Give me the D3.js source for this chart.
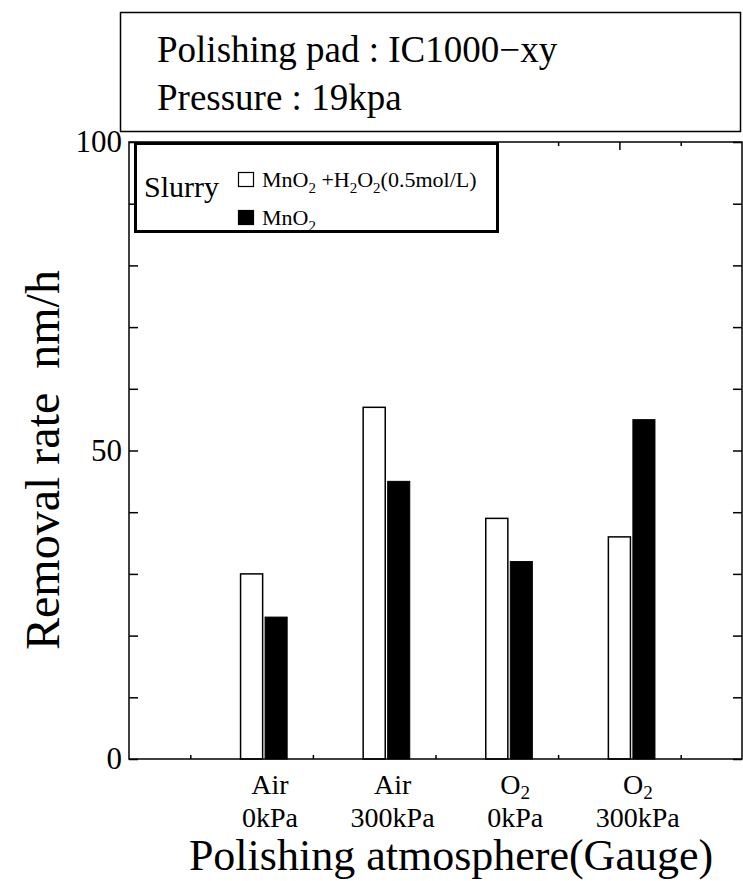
<!DOCTYPE html>
<html>
<head>
<meta charset="utf-8">
<script src="https://cdn.jsdelivr.net/npm/d3@7"></script>
<style>
  html, body { margin: 0; padding: 0; background: #fff; }
  svg { display: block; }
  text { font-family: "Liberation Serif", "Times New Roman", serif; fill: #000; }
</style>
</head>
<body>
<svg id="chart" width="743" height="881"></svg>
<script>
// Removal rate (nm/h) per polishing atmosphere
const categories = ["Air 0kPa", "Air 300kPa", "O2 0kPa", "O2 300kPa"];
const gasNames = ["Air", "Air", "O2", "O2"];
const pressureNames = ["0kPa", "300kPa", "0kPa", "300kPa"];
const withPeroxide = [30, 57, 39, 36];   // MnO2 + H2O2 (0.5 mol/L)
const mno2Only = [23, 45, 32, 55];       // MnO2
const yTickLabels = [0, 50, 100];
const infoLines = ["Polishing pad : IC1000\u2212xy", "Pressure : 19kpa"];

const svg = d3.select("#chart");
const W = 743, H = 881;
const plot = { left: 129, right: 742, top: 142, bottom: 759 };

const x = d3.scaleLinear().domain([0, 5]).range([plot.left, plot.right]);
const y = d3.scaleLinear().domain([0, 100]).range([plot.bottom, plot.top]);

svg.append("rect").attr("width", W).attr("height", H).attr("fill", "#fff");

// Writes text segments, lowering the ones flagged as subscripts
function richText(sel, segments, size, drop = 0.25) {
  let lowered = false;
  segments.forEach(([str, sub]) => {
    const t = sel.append("tspan").text(str);
    if (sub && !lowered) { t.attr("dy", size * drop).attr("font-size", size * 0.68); lowered = true; }
    else if (sub) { t.attr("font-size", size * 0.68); }
    else if (lowered) { t.attr("dy", -size * drop); lowered = false; }
  });
}
function splitDigits(s) {
  // trailing digits after a letter become subscripts (O2 -> O + 2)
  const m = s.match(/^(.*[A-Za-z])(\d+)$/);
  return m ? [[m[1], false], [m[2], true]] : [[s, false]];
}

// Info box above the chart
svg.append("rect")
  .attr("x", 120.5).attr("y", 12.5).attr("width", 620).attr("height", 119)
  .attr("fill", "#fff").attr("stroke", "#000").attr("stroke-width", 1.5);
infoLines.forEach((line, i) => {
  svg.append("text").attr("x", 157).attr("y", 62 + i * 48)
    .attr("font-size", 37).text(line);
});

// Inward ticks on all four sides
const yMinor = d3.range(0, 101, 10);
svg.append("g").attr("transform", `translate(${plot.left},0)`)
  .call(d3.axisRight(y).tickValues(yMinor).tickSize(9).tickFormat(""))
  .call(g => g.select(".domain").remove());
svg.append("g").attr("transform", `translate(${plot.right},0)`)
  .call(d3.axisLeft(y).tickValues(yMinor).tickSize(9).tickFormat(""))
  .call(g => g.select(".domain").remove());

const xMajor = [1, 2, 3, 4];
const xMinor = [0.5, 1.5, 2.5, 3.5, 4.5];
svg.append("g").attr("transform", `translate(0,${plot.top})`)
  .call(d3.axisBottom(x).tickValues(xMajor).tickSize(8).tickFormat(""))
  .call(g => g.select(".domain").remove());
svg.append("g").attr("transform", `translate(0,${plot.top})`)
  .call(d3.axisBottom(x).tickValues(xMinor).tickSize(4).tickFormat(""))
  .call(g => g.select(".domain").remove());
svg.append("g").attr("transform", `translate(0,${plot.bottom})`)
  .call(d3.axisTop(x).tickValues(xMajor).tickSize(8).tickFormat(""))
  .call(g => g.select(".domain").remove());
svg.append("g").attr("transform", `translate(0,${plot.bottom})`)
  .call(d3.axisTop(x).tickValues(xMinor).tickSize(4).tickFormat(""))
  .call(g => g.select(".domain").remove());
svg.selectAll(".tick line").attr("stroke", "#000").attr("stroke-width", 1.5);

// Y tick labels
svg.append("g").attr("transform", `translate(${plot.left},0)`)
  .call(d3.axisLeft(y).tickValues(yTickLabels).tickSize(0).tickPadding(7))
  .call(g => g.select(".domain").remove())
  .call(g => g.selectAll("text")
    .attr("font-family", "'Liberation Serif', serif")
    .attr("font-size", 31).attr("fill", "#000"));

// Bars: open = MnO2 + H2O2, filled = MnO2
const barW = 0.18;
const bars = svg.append("g");
bars.selectAll("rect.open").data(withPeroxide).join("rect")
  .attr("class", "open")
  .attr("x", (d, i) => x(i + 1 - barW / 2))
  .attr("width", x(barW) - x(0))
  .attr("y", d => y(d))
  .attr("height", d => y(0) - y(d))
  .attr("fill", "#fff").attr("stroke", "#000").attr("stroke-width", 1.5);
bars.selectAll("rect.solid").data(mno2Only).join("rect")
  .attr("class", "solid")
  .attr("x", (d, i) => x(i + 1.2 - barW / 2))
  .attr("width", x(barW) - x(0))
  .attr("y", d => y(d))
  .attr("height", d => y(0) - y(d))
  .attr("fill", "#000").attr("stroke", "#000").attr("stroke-width", 1);

// Plot frame
svg.append("rect")
  .attr("x", plot.left).attr("y", plot.top)
  .attr("width", plot.right - plot.left).attr("height", plot.bottom - plot.top)
  .attr("fill", "none").attr("stroke", "#000").attr("stroke-width", 1.5);

// Category labels (two lines each)
categories.forEach((c, i) => {
  const cx = x(i + 1.15);
  const t1 = svg.append("text").attr("x", cx).attr("y", 794)
    .attr("text-anchor", "middle").attr("font-size", 28);
  richText(t1, splitDigits(gasNames[i]), 28, 0.18);
  svg.append("text").attr("x", cx).attr("y", 827)
    .attr("text-anchor", "middle").attr("font-size", 28).text(pressureNames[i]);
});

// Axis titles
svg.append("text").attr("x", 451).attr("y", 870)
  .attr("text-anchor", "middle").attr("font-size", 44)
  .text("Polishing atmosphere(Gauge)");
svg.append("text")
  .attr("transform", "translate(59,460) rotate(-90)")
  .attr("text-anchor", "middle").attr("font-size", 48)
  .style("white-space", "pre")
  .text("Removal rate  nm/h");

// Legend
const lg = svg.append("g");
lg.append("rect").attr("x", 135.5).attr("y", 143.5).attr("width", 362).attr("height", 88)
  .attr("fill", "#fff").attr("stroke", "#000").attr("stroke-width", 3);
lg.append("text").attr("x", 144).attr("y", 197).attr("font-size", 30).text("Slurry");
const legendItems = [
  { fill: "#fff", segs: [["MnO", false], ["2", true], [" +H", false], ["2", true], ["O", false], ["2", true], ["(0.5mol/L)", false]] },
  { fill: "#000", segs: [["MnO", false], ["2", true]] }
];
legendItems.forEach((it, i) => {
  const yy = 172 + i * 38;
  lg.append("rect").attr("x", 238.5).attr("y", yy + 0.5).attr("width", 15).attr("height", 14)
    .attr("fill", it.fill).attr("stroke", "#000").attr("stroke-width", 1.2);
  const t = lg.append("text").attr("x", 262).attr("y", yy + 15).attr("font-size", 22);
  richText(t, it.segs, 22);
});
</script>
</body>
</html>
